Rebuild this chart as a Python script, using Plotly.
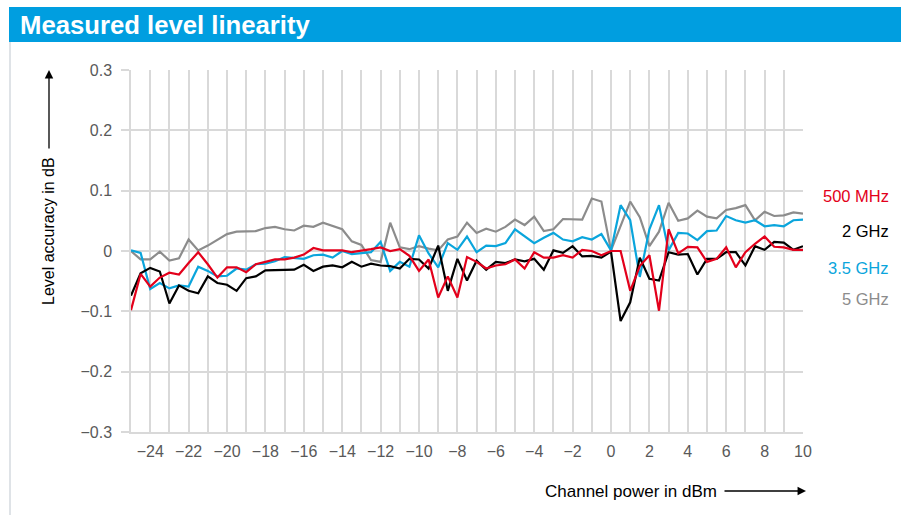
import plotly.graph_objects as go

# ---------------- data ----------------
channel_power_dbm = [
    -25.0, -24.5, -24.0, -23.5, -23.0, -22.5, -22.0, -21.5, -21.0, -20.5,
    -20.0, -19.5, -19.0, -18.5, -18.0, -17.5, -17.0, -16.5, -16.0, -15.5,
    -15.0, -14.5, -14.0, -13.5, -13.0, -12.5, -12.0, -11.5, -11.0, -10.5,
    -10.0, -9.5, -9.0, -8.5, -8.0, -7.5, -7.0, -6.5, -6.0, -5.5,
    -5.0, -4.5, -4.0, -3.5, -3.0, -2.5, -2.0, -1.5, -1.0, -0.5,
    0.0, 0.5, 1.0, 1.5, 2.0, 2.5, 3.0, 3.5, 4.0, 4.5,
    5.0, 5.5, 6.0, 6.5, 7.0, 7.5, 8.0, 8.5, 9.0, 9.5, 10.0,
]

acc_500mhz = [
    -0.098, -0.038, -0.059, -0.044, -0.036, -0.039, -0.020, -0.002, -0.022, -0.044,
    -0.027, -0.027, -0.035, -0.022, -0.018, -0.014, -0.014, -0.011, -0.006, 0.005,
    0.001, 0.001, 0.001, -0.002, 0.000, 0.003, 0.006, 0.000, 0.003, -0.008,
    -0.033, -0.014, -0.077, -0.042, -0.077, -0.010, -0.018, -0.029, -0.024, -0.022,
    -0.014, -0.029, -0.002, -0.011, -0.011, -0.007, -0.011, 0.002, 0.000, -0.007,
    0.000, 0.000, -0.066, -0.025, -0.007, -0.099, 0.036, -0.004, 0.007, 0.006,
    -0.018, -0.013, 0.006, -0.027, -0.002, 0.012, 0.024, 0.007, 0.006, 0.002, 0.002,
]

acc_2ghz = [
    -0.074, -0.037, -0.028, -0.034, -0.087, -0.057, -0.066, -0.070, -0.042, -0.053,
    -0.056, -0.066, -0.045, -0.042, -0.032, -0.032, -0.031, -0.031, -0.023, -0.033,
    -0.026, -0.024, -0.027, -0.018, -0.026, -0.021, -0.024, -0.025, -0.029, -0.013,
    -0.014, -0.029, 0.009, -0.066, -0.013, -0.049, -0.016, -0.031, -0.018, -0.020,
    -0.014, -0.017, -0.013, -0.031, 0.001, -0.003, 0.008, -0.009, -0.008, -0.011,
    -0.001, -0.116, -0.085, -0.011, -0.046, -0.049, -0.002, -0.006, -0.005, -0.039,
    -0.013, -0.013, -0.002, -0.002, -0.024, 0.008, 0.002, 0.015, 0.014, 0.002, 0.008,
]

acc_3_5ghz = [
    0.001, -0.003, -0.063, -0.053, -0.062, -0.057, -0.059, -0.026, -0.033, -0.042,
    -0.041, -0.029, -0.031, -0.022, -0.021, -0.017, -0.010, -0.011, -0.013, -0.007,
    -0.006, -0.011, 0.000, -0.005, -0.003, -0.002, 0.015, -0.033, -0.018, -0.026,
    0.026, -0.004, -0.027, 0.013, 0.002, 0.024, -0.002, 0.009, 0.008, 0.013,
    0.036, 0.024, 0.013, 0.022, 0.030, 0.019, 0.016, 0.023, 0.019, 0.028,
    0.001, 0.076, 0.051, -0.043, 0.036, 0.076, 0.001, 0.030, 0.029, 0.018,
    0.033, 0.034, 0.058, 0.051, 0.047, 0.051, 0.041, 0.043, 0.041, 0.051, 0.052,
]

acc_5ghz = [
    0.000, -0.014, -0.014, -0.001, -0.016, -0.012, 0.019, 0.001, 0.009, 0.019,
    0.028, 0.032, 0.033, 0.033, 0.038, 0.040, 0.036, 0.034, 0.042, 0.040,
    0.047, 0.041, 0.036, 0.016, 0.010, -0.015, -0.018, 0.047, 0.006, 0.003,
    0.008, 0.004, 0.001, 0.019, 0.024, 0.047, 0.030, 0.037, 0.032, 0.040,
    0.052, 0.043, 0.057, 0.033, 0.036, 0.053, 0.053, 0.052, 0.087, 0.082,
    0.001, 0.041, 0.082, 0.056, 0.008, 0.032, 0.080, 0.050, 0.054, 0.067,
    0.057, 0.054, 0.068, 0.071, 0.076, 0.051, 0.065, 0.058, 0.059, 0.064, 0.062,
]

series_names = ["500 MHz", "2 GHz", "3.5 GHz", "5 GHz"]

x_tick_values = [-24, -22, -20, -18, -16, -14, -12, -10, -8, -6, -4, -2, 0, 2, 4, 6, 8, 10]
x_tick_labels = ["\u221224", "\u221222", "\u221220", "\u221218", "\u221216", "\u221214",
                 "\u221212", "\u221210", "\u22128", "\u22126", "\u22124", "\u22122",
                 "0", "2", "4", "6", "8", "10"]
y_tick_values = [-0.3, -0.2, -0.1, 0.0, 0.1, 0.2, 0.3]
y_tick_labels = ["\u22120.3", "\u22120.2", "\u22120.1", "0", "0.1", "0.2", "0.3"]

title_text = "Measured level linearity"
x_title = "Channel power in dBm"
y_title = "Level accuracy in dB"

# ---------------- style ----------------
W, H = 901, 515
ML, MR, MT, MB = 131, 98, 70, 83
PW, PH = W - ML - MR, H - MT - MB

RS_BLUE = "#009ee0"
colors = {"500 MHz": "#e3001b", "2 GHz": "#000000", "3.5 GHz": "#0aa5dc", "5 GHz": "#8c8c8c"}
GRID = "#d9d9d9"
FONT = "Liberation Sans, Arial, sans-serif"


def px_x(px):
    return (px - ML) / PW


def px_y(py):
    return (H - MB - py) / PH


series_values = {
    "500 MHz": acc_500mhz,
    "2 GHz": acc_2ghz,
    "3.5 GHz": acc_3_5ghz,
    "5 GHz": acc_5ghz,
}

fig = go.Figure()
for name in ["5 GHz", "3.5 GHz", "2 GHz", "500 MHz"]:
    fig.add_trace(go.Scatter(
        x=channel_power_dbm, y=series_values[name], mode="lines", name=name,
        line=dict(color=colors[name], width=2.2), showlegend=False,
    ))

fig.update_layout(
    width=W, height=H,
    margin=dict(l=ML, r=MR, t=MT, b=MB, autoexpand=False),
    paper_bgcolor="white", plot_bgcolor="white",
    font=dict(family=FONT, size=16, color="#595959"),
    title=dict(text=title_text, x=20 / W, xanchor="left", y=1 - 25 / H, yanchor="middle",
               xref="container", yref="container",
               font=dict(family=FONT, size=25.7, color="white", weight="bold")),
)

fig.update_xaxes(
    range=[-25, 10], tickmode="array", tickvals=x_tick_values, ticktext=x_tick_labels,
    showgrid=True, gridcolor=GRID, gridwidth=1.5, zeroline=False,
    showline=True, linecolor=GRID, linewidth=1.5, ticks="",
    minor=dict(tickmode="linear", tick0=-25, dtick=1, showgrid=True, gridcolor=GRID, gridwidth=1.5, ticks=""),
    tickfont=dict(family=FONT, size=16, color="#595959"),
    ticklabelstandoff=4,
)
fig.update_yaxes(
    range=[-0.3, 0.3], tickmode="array", tickvals=y_tick_values, ticktext=y_tick_labels,
    showgrid=True, gridcolor=GRID, gridwidth=1.5, zeroline=False,
    showline=True, linecolor=GRID, linewidth=1.5,
    ticks="outside", ticklen=8, tickcolor=GRID, tickwidth=1.5,
    tickfont=dict(family=FONT, size=16, color="#595959"),
    ticklabelstandoff=6,
)

# title bar and frame
fig.add_shape(type="rect", xref="paper", yref="paper",
              x0=px_x(9), x1=px_x(W + 2), y0=px_y(42), y1=px_y(7),
              fillcolor=RS_BLUE, line=dict(width=0), layer="below")
fig.add_shape(type="line", xref="paper", yref="paper",
              x0=px_x(10), x1=px_x(10), y0=px_y(42), y1=px_y(H + 2),
              line=dict(color="#d5dadf", width=1.5))

annotations = []
# series labels on the right
label_y = {"500 MHz": 196, "2 GHz": 231, "3.5 GHz": 268, "5 GHz": 299}
for name in series_names:
    annotations.append(dict(
        text=name, xref="paper", yref="paper", x=px_x(891), y=px_y(label_y[name]),
        xanchor="right", yanchor="middle", showarrow=False,
        font=dict(family=FONT, size=16.5, color=colors[name]),
    ))

# x-axis title with arrow
annotations.append(dict(
    text=x_title, xref="paper", yref="paper", x=px_x(719), y=px_y(491),
    xanchor="right", yanchor="middle", showarrow=False,
    font=dict(family=FONT, size=17, color="#000000"),
))
annotations.append(dict(
    text="", xref="paper", yref="paper", x=px_x(806), y=px_y(491),
    ax=-83, ay=0, showarrow=True, arrowhead=2, arrowsize=1.3, arrowwidth=1.3, arrowcolor="#000000",
))
# y-axis title with arrow
annotations.append(dict(
    text=y_title, xref="paper", yref="paper", x=px_x(48), y=px_y(231),
    xanchor="center", yanchor="middle", textangle=-90, showarrow=False,
    font=dict(family=FONT, size=16, color="#000000"),
))
annotations.append(dict(
    text="", xref="paper", yref="paper", x=px_x(49), y=px_y(70),
    ax=0, ay=80, showarrow=True, arrowhead=2, arrowsize=1.3, arrowwidth=1.3, arrowcolor="#000000",
))
fig.update_layout(annotations=annotations)

fig.write_html("out.html", config={"displayModeBar": False},
               post_script="document.body.style.margin='0';")
